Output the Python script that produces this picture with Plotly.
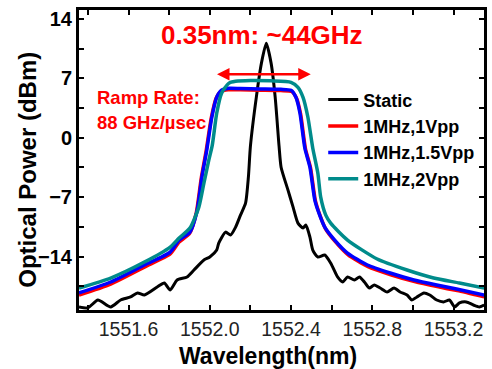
import plotly.graph_objects as go

# ---- data ----
static_x = [1551.356, 1551.40, 1551.449, 1551.512, 1551.561, 1551.610, 1551.644, 1551.678, 1551.741, 1551.776,
            1551.805, 1551.839, 1551.888, 1551.922, 1551.971, 1552.0, 1552.034, 1552.044, 1552.078, 1552.102,
            1552.127, 1552.151, 1552.176, 1552.190, 1552.20, 1552.229, 1552.254, 1552.278, 1552.302, 1552.322,
            1552.341, 1552.351, 1552.385, 1552.410, 1552.434, 1552.459, 1552.473, 1552.493, 1552.507, 1552.532,
            1552.566, 1552.595, 1552.629, 1552.654, 1552.678, 1552.712, 1552.737, 1552.761, 1552.785, 1552.810,
            1552.839, 1552.873, 1552.907, 1552.937, 1552.971, 1552.995, 1553.02, 1553.054, 1553.083, 1553.117,
            1553.151, 1553.180, 1553.205, 1553.229, 1553.263, 1553.298, 1553.327, 1553.351]
static_y = [-19.94, -20.05, -19.12, -19.94, -19.12, -18.76, -18.29, -18.53, -17.59, -17.12,
            -17.94, -16.76, -16.41, -15.59, -14.41, -14.06, -13.24, -12.41, -11.12, -11.47,
            -10.53, -9.12, -7.71, -4.65, -1.0, 4.76, 8.76, 11.12, 8.76, 4.76,
            -1.0, -3.47, -6.18, -8.18, -10.06, -10.65, -10.29, -11.71, -13.24, -14.06,
            -13.82, -14.76, -16.41, -17.0, -16.41, -16.76, -16.41, -17.0, -17.71, -17.35,
            -17.71, -18.18, -17.71, -18.18, -18.53, -19.12, -18.76, -18.29, -18.53, -19.12,
            -19.35, -19.12, -19.94, -19.47, -19.35, -19.71, -19.94, -19.71]

v1_x = [1551.356, 1551.512, 1551.678, 1551.805, 1551.849, 1551.900, 1551.933, 1551.958, 1551.982, 1552.007,
        1552.031, 1552.055, 1552.090, 1552.15, 1552.25, 1552.35, 1552.403, 1552.427, 1552.447, 1552.471,
        1552.496, 1552.520, 1552.544, 1552.569, 1552.618, 1552.681, 1552.779, 1552.891, 1553.008, 1553.120,
        1553.218, 1553.351]
v1_y = [-18.55, -17.25, -15.25, -13.7, -12.3, -11.3, -8.9, -4.75, -1.55, 2.3,
        4.65, 5.45, 5.65, 5.65, 5.6, 5.55, 5.45, 4.65, 2.8, -1.3,
        -3.55, -7.45, -9.25, -10.7, -12.25, -13.8, -15.2, -16.15, -16.95, -17.55,
        -18.02, -18.75]

v15_x = [1551.356, 1551.512, 1551.678, 1551.805, 1551.849, 1551.902, 1551.936, 1551.961, 1551.985, 1552.010,
         1552.034, 1552.058, 1552.093, 1552.15, 1552.25, 1552.35, 1552.400, 1552.424, 1552.444, 1552.468,
         1552.493, 1552.517, 1552.541, 1552.566, 1552.615, 1552.678, 1552.776, 1552.888, 1553.005, 1553.117,
         1553.215, 1553.351]
v15_y = [-18.29, -17.0, -15.0, -13.47, -12.06, -11.12, -8.76, -4.65, -1.47, 2.41,
         4.76, 5.59, 5.82, 5.8, 5.75, 5.7, 5.59, 4.76, 2.88, -1.24,
         -3.47, -7.35, -9.12, -10.53, -12.06, -13.59, -15.0, -15.94, -16.76, -17.35,
         -17.82, -18.53]

v2_x = [1551.356, 1551.512, 1551.678, 1551.805, 1551.849, 1551.902, 1551.946, 1551.971, 1551.995, 1552.012,
        1552.034, 1552.058, 1552.093, 1552.127, 1552.2, 1552.3, 1552.400, 1552.434, 1552.459, 1552.483,
        1552.507, 1552.532, 1552.546, 1552.571, 1552.595, 1552.678, 1552.824, 1552.971, 1553.102, 1553.229,
        1553.351]
v2_y = [-17.71, -16.53, -14.65, -12.88, -11.82, -10.65, -8.18, -5.35, -2.65, -0.9,
        2.88, 5.24, 6.41, 6.65, 6.75, 6.7, 6.53, 5.94, 4.76, 2.41,
        -1.24, -4.18, -7.0, -9.12, -10.06, -12.06, -14.29, -15.59, -16.53, -17.12,
        -17.71]

names = ["Static", "1MHz,1Vpp", "1MHz,1.5Vpp", "1MHz,2Vpp"]
colors = ["black", "#ff0000", "#0000ff", "#008b8b"]
widths = [3, 3.5, 3.5, 3.5]
xs = [static_x, v1_x, v15_x, v2_x]
ys = [static_y, v1_y, v15_y, v2_y]

span_x = [1552.028, 1552.497]
span_y = [7.47, 7.47]

FONT = "Liberation Sans, Arial, sans-serif"

fig = go.Figure()
for i in range(4):
    fig.add_trace(go.Scatter(x=xs[i], y=ys[i], mode="lines", name=names[i],
                             line=dict(color=colors[i], width=widths[i], shape="spline", smoothing=0.6)))

fig.update_layout(
    width=492, height=369,
    margin=dict(l=79, r=5, t=10, b=59),
    paper_bgcolor="white", plot_bgcolor="white",
    font=dict(family=FONT, color="black"),
    showlegend=True,
    legend=dict(x=0.603, y=0.762, xanchor="left", yanchor="top",
                bgcolor="rgba(0,0,0,0)", borderwidth=0,
                font=dict(size=18, family=FONT, weight="bold", color="black")),
    xaxis=dict(range=[1551.356, 1553.35], tick0=1551.6, dtick=0.4, tickformat=".1f",
               ticks="inside", ticklen=5, tickwidth=1.5, tickcolor="black",
               minor=dict(dtick=0.2, tick0=1551.6, ticks="inside", ticklen=5, tickwidth=1.5, tickcolor="black"),
               showline=True, linewidth=3, linecolor="black", mirror="allticks",
               showgrid=False, zeroline=False,
               tickfont=dict(size=19.5, family=FONT, color="#222")),
    yaxis=dict(range=[-20.3, 15.05], tick0=0, dtick=7,
               ticks="inside", ticklen=5, tickwidth=1.5, tickcolor="black",
               minor=dict(dtick=3.5, tick0=0, ticks="inside", ticklen=5, tickwidth=1.5, tickcolor="black"),
               showline=True, linewidth=3, linecolor="black", mirror="allticks",
               showgrid=False, zeroline=False,
               tickfont=dict(size=20, family=FONT, weight="bold", color="black")),
)

fig.add_annotation(x=span_x[1], y=span_y[1], ax=span_x[0], ay=span_y[0], xref="x", yref="y",
                   axref="x", ayref="y", text="", showarrow=True, arrowhead=2, startarrowhead=2,
                   arrowside="end+start", arrowwidth=2.5, arrowsize=1, startarrowsize=1, arrowcolor="red")

fig.add_annotation(x=0.453, y=0.915, xref="paper", yref="paper", text="0.35nm: ~44GHz", showarrow=False,
                   font=dict(size=26, family=FONT, weight="bold", color="red"), xanchor="center", yanchor="middle")
fig.add_annotation(x=0.039, y=0.709, xref="paper", yref="paper", text="Ramp Rate:", showarrow=False,
                   font=dict(size=18.5, family=FONT, weight="bold", color="red"), xanchor="left", yanchor="middle")
fig.add_annotation(x=0.039, y=0.626, xref="paper", yref="paper", text="88 GHz/µsec", showarrow=False,
                   font=dict(size=18.5, family=FONT, weight="bold", color="red"), xanchor="left", yanchor="middle")
fig.add_annotation(x=0.466, y=-0.153, xref="paper", yref="paper", text="Wavelength(nm)", showarrow=False,
                   font=dict(size=23, family=FONT, weight="bold", color="black"), xanchor="center", yanchor="middle")
fig.add_annotation(x=-0.127, y=0.466, xref="paper", yref="paper", text="Optical Power (dBm)", showarrow=False,
                   textangle=-90,
                   font=dict(size=24, family=FONT, weight="bold", color="black"), xanchor="center", yanchor="middle")

fig.write_html("out.html")
